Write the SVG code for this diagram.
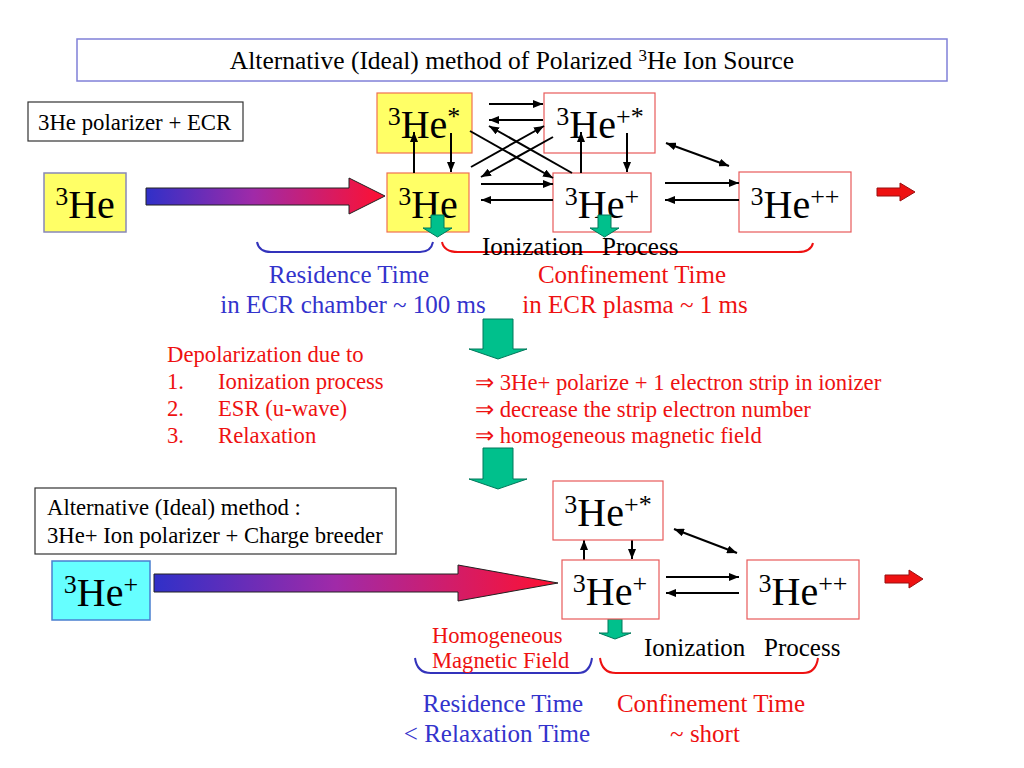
<svg xmlns="http://www.w3.org/2000/svg" width="1024" height="768" viewBox="0 0 1024 768">
<style>
text{font-family:"Liberation Serif","Times New Roman",serif}
.wbox{fill:#ffffff;stroke:#e85a5a;stroke-width:1.2}
.ybox{fill:#ffff66;stroke:#f07050;stroke-width:1.2}
.tbox{fill:#ffffff;stroke:#333333;stroke-width:1.2}
.ion{font-size:40px;fill:#000;text-anchor:middle}
.conn line{stroke:#000;stroke-width:2;marker-end:url(#ah)}
.blue{fill:#3333cc}
.red{fill:#ee1111}
.green{fill:#00c08c;stroke:#00785a;stroke-width:1}
.brb{fill:none;stroke:#3333bb;stroke-width:2}
.brr{fill:none;stroke:#ee1111;stroke-width:2}
</style>
<defs>
<marker id="ah" viewBox="0 0 10 8" markerWidth="10" markerHeight="8" refX="10" refY="4" orient="auto-start-reverse" markerUnits="userSpaceOnUse">
<path d="M0,0 L10,4 L0,8 z" fill="#000"/>
</marker>
<linearGradient id="grad" x1="0" y1="0" x2="1" y2="0">
<stop offset="0" stop-color="#3030c8"/>
<stop offset="0.45" stop-color="#a02aa8"/>
<stop offset="1" stop-color="#ff1030"/>
</linearGradient>
</defs>
<rect width="1024" height="768" fill="#ffffff"/>

<g id="title">
<rect x="77" y="39" width="870" height="42" fill="#fff" stroke="#8080d8" stroke-width="1.5"/>
<text x="512" y="69" font-size="25.5" text-anchor="middle">Alternative (Ideal) method of Polarized <tspan font-size="17" dy="-8">3</tspan><tspan dy="8">He Ion Source</tspan></text>
</g>

<g id="label-ecr">
<rect class="tbox" x="28" y="102" width="215" height="39"/>
<text x="38" y="130" font-size="22.8">3He polarizer + ECR</text>
</g>

<g id="he3-source">
<rect x="44" y="173" width="82" height="59" fill="#ffff66" stroke="#8888b8" stroke-width="1.5"/>
<text class="ion" x="85" y="218"><tspan font-size="26" dy="-13">3</tspan><tspan dy="13">He</tspan></text>
</g>

<g id="beam-arrow-top">
<polygon points="146,188 349,188 349,178 385,196 349,214 349,205 146,205" fill="url(#grad)" stroke="#222" stroke-width="1"/>
</g>

<g id="he3-star">
<rect class="ybox" x="377" y="93" width="95" height="60"/>
<text class="ion" x="424" y="138"><tspan font-size="26" dy="-13">3</tspan><tspan dy="13">He</tspan><tspan font-size="26" dy="-13">*</tspan></text>
</g>
<g id="he3">
<rect class="ybox" x="387" y="173" width="82" height="59"/>
<text class="ion" x="428" y="218"><tspan font-size="26" dy="-13">3</tspan><tspan dy="13">He</tspan></text>
</g>
<g id="he3p-star">
<rect class="wbox" x="544" y="93" width="111" height="60"/>
<text class="ion" x="600" y="138"><tspan font-size="26" dy="-13">3</tspan><tspan dy="13">He</tspan><tspan font-size="26" dy="-13">+*</tspan></text>
</g>
<g id="he3p">
<rect class="wbox" x="553" y="173" width="98" height="59"/>
<text class="ion" x="602" y="218"><tspan font-size="26" dy="-13">3</tspan><tspan dy="13">He</tspan><tspan font-size="26" dy="-13">+</tspan></text>
</g>
<g id="he3pp">
<rect class="wbox" x="739" y="172" width="112" height="60"/>
<text class="ion" x="795" y="218"><tspan font-size="26" dy="-13">3</tspan><tspan dy="13">He</tspan><tspan font-size="26" dy="-13">++</tspan></text>
</g>
<g id="out-arrow-top">
<polygon points="877,188 900,188 900,183 915,192 900,201 900,196 877,196" fill="#ee1111" stroke="#991111" stroke-width="1"/>
</g>

<g id="connectors" class="conn">
<line x1="489" y1="104" x2="543" y2="104"/>
<line x1="543" y1="120" x2="489" y2="120"/>
<line x1="414" y1="173" x2="414" y2="132"/>
<line x1="451" y1="133" x2="451" y2="172"/>
<line x1="470" y1="131" x2="553" y2="178"/>
<line x1="572" y1="173" x2="489" y2="126"/>
<line x1="471" y1="167" x2="544" y2="126"/>
<line x1="553" y1="137" x2="481" y2="177"/>
<line x1="481" y1="184" x2="553" y2="184"/>
<line x1="553" y1="200" x2="481" y2="200"/>
<line x1="581" y1="173" x2="581" y2="132"/>
<line x1="627" y1="133" x2="627" y2="172"/>
<line x1="665" y1="183" x2="739" y2="183"/>
<line x1="739" y1="200" x2="665" y2="200"/>
<line x1="666" y1="143" x2="729" y2="166" marker-start="url(#ah)"/>
<line x1="584" y1="560" x2="584" y2="540"/>
<line x1="632" y1="540" x2="632" y2="559"/>
<line x1="666" y1="577" x2="739" y2="577"/>
<line x1="739" y1="593" x2="666" y2="593"/>
<line x1="674" y1="529" x2="737" y2="553" marker-start="url(#ah)"/>
</g>

<g id="green-arrows">
<polygon class="green" points="431,215 444,215 444,228 452,228 437.5,237 423,228 431,228"/>
<polygon class="green" points="598,215 611,215 611,228 619,228 604.5,237 590,228 598,228"/>
<polygon class="green" points="483,319 513,319 513,349 527,349 498,359 469,349 483,349"/>
<polygon class="green" points="483,448 513,448 513,479 527,479 498,489 469,479 483,479"/>
<polygon class="green" points="608,619 622,619 622,633 631,633 615,639 599,633 608,633"/>
</g>

<g id="braces-top">
<path class="brb" d="M257,242 Q259,252 271,252 L420,252 Q431,252 433,242"/>
<path class="brr" d="M442,242 Q444,252 458,252 L798,252 Q811,252 813,243"/>
</g>
<g id="top-labels">
<text x="482" y="255" font-size="25">Ionization</text>
<text x="602" y="255" font-size="25">Process</text>
<text class="blue" x="349" y="283" font-size="25" text-anchor="middle">Residence Time</text>
<text class="blue" x="353" y="313" font-size="25" text-anchor="middle">in ECR chamber ~ 100 ms</text>
<text class="red" x="632" y="283" font-size="25" text-anchor="middle">Confinement Time</text>
<text class="red" x="635" y="313" font-size="25" text-anchor="middle">in ECR plasma ~ 1 ms</text>
</g>

<g id="depolarization" font-size="22.7">
<text class="red" x="167" y="362">Depolarization due to</text>
<text class="red" x="167" y="389">1.</text>
<text class="red" x="218" y="389">Ionization process</text>
<text class="red" x="167" y="416">2.</text>
<text class="red" x="218" y="416">ESR (u-wave)</text>
<text class="red" x="167" y="443">3.</text>
<text class="red" x="218" y="443">Relaxation</text>
<text class="red" x="475" y="390">⇒ 3He+ polarize + 1 electron strip in ionizer</text>
<text class="red" x="475" y="417">⇒ decrease the strip electron number</text>
<text class="red" x="475" y="443">⇒ homogeneous magnetic field</text>
</g>

<g id="label-alt">
<rect class="tbox" x="35" y="488" width="361" height="66"/>
<text x="47" y="515" font-size="22.7">Alternative (Ideal) method :</text>
<text x="47" y="543" font-size="22.7">3He+ Ion polarizer + Charge breeder</text>
</g>

<g id="he3p-source">
<rect x="52" y="561" width="98" height="59" fill="#66ffff" stroke="#4a7fd0" stroke-width="1.5"/>
<text class="ion" x="101" y="606"><tspan font-size="26" dy="-13">3</tspan><tspan dy="13">He</tspan><tspan font-size="26" dy="-13">+</tspan></text>
</g>
<g id="beam-arrow-bottom">
<polygon points="154,574 458,574 458,565 558,583 458,601 458,592 154,592" fill="url(#grad)" stroke="#222" stroke-width="1"/>
</g>

<g id="he3p-star-2">
<rect class="wbox" x="553" y="481" width="110" height="59"/>
<text class="ion" x="608" y="526"><tspan font-size="26" dy="-13">3</tspan><tspan dy="13">He</tspan><tspan font-size="26" dy="-13">+*</tspan></text>
</g>
<g id="he3p-2">
<rect class="wbox" x="562" y="560" width="97" height="59"/>
<text class="ion" x="610" y="605"><tspan font-size="26" dy="-13">3</tspan><tspan dy="13">He</tspan><tspan font-size="26" dy="-13">+</tspan></text>
</g>
<g id="he3pp-2">
<rect class="wbox" x="747" y="560" width="112" height="59"/>
<text class="ion" x="803" y="605"><tspan font-size="26" dy="-13">3</tspan><tspan dy="13">He</tspan><tspan font-size="26" dy="-13">++</tspan></text>
</g>
<g id="out-arrow-bottom">
<polygon points="885,575 909,575 909,570 923,579 909,588 909,583 885,583" fill="#ee1111" stroke="#991111" stroke-width="1"/>
</g>

<g id="braces-bottom">
<path class="brb" d="M415,658 Q417,673 431,673 L578,673 Q590,673 592,658"/>
<path class="brr" d="M600,658 Q602,673 616,673 L803,673 Q816,673 818,658"/>
</g>
<g id="bottom-labels">
<text class="red" x="432" y="643" font-size="22.6">Homogeneous</text>
<text class="red" x="432" y="668" font-size="22.6">Magnetic Field</text>
<text x="644" y="656" font-size="25">Ionization</text>
<text x="764" y="656" font-size="25">Process</text>
<text class="blue" x="503" y="712" font-size="25" text-anchor="middle">Residence Time</text>
<text class="blue" x="497" y="742" font-size="25" text-anchor="middle">&lt; Relaxation Time</text>
<text class="red" x="711" y="712" font-size="25" text-anchor="middle">Confinement Time</text>
<text class="red" x="705" y="742" font-size="25" text-anchor="middle">~ short</text>
</g>
</svg>
